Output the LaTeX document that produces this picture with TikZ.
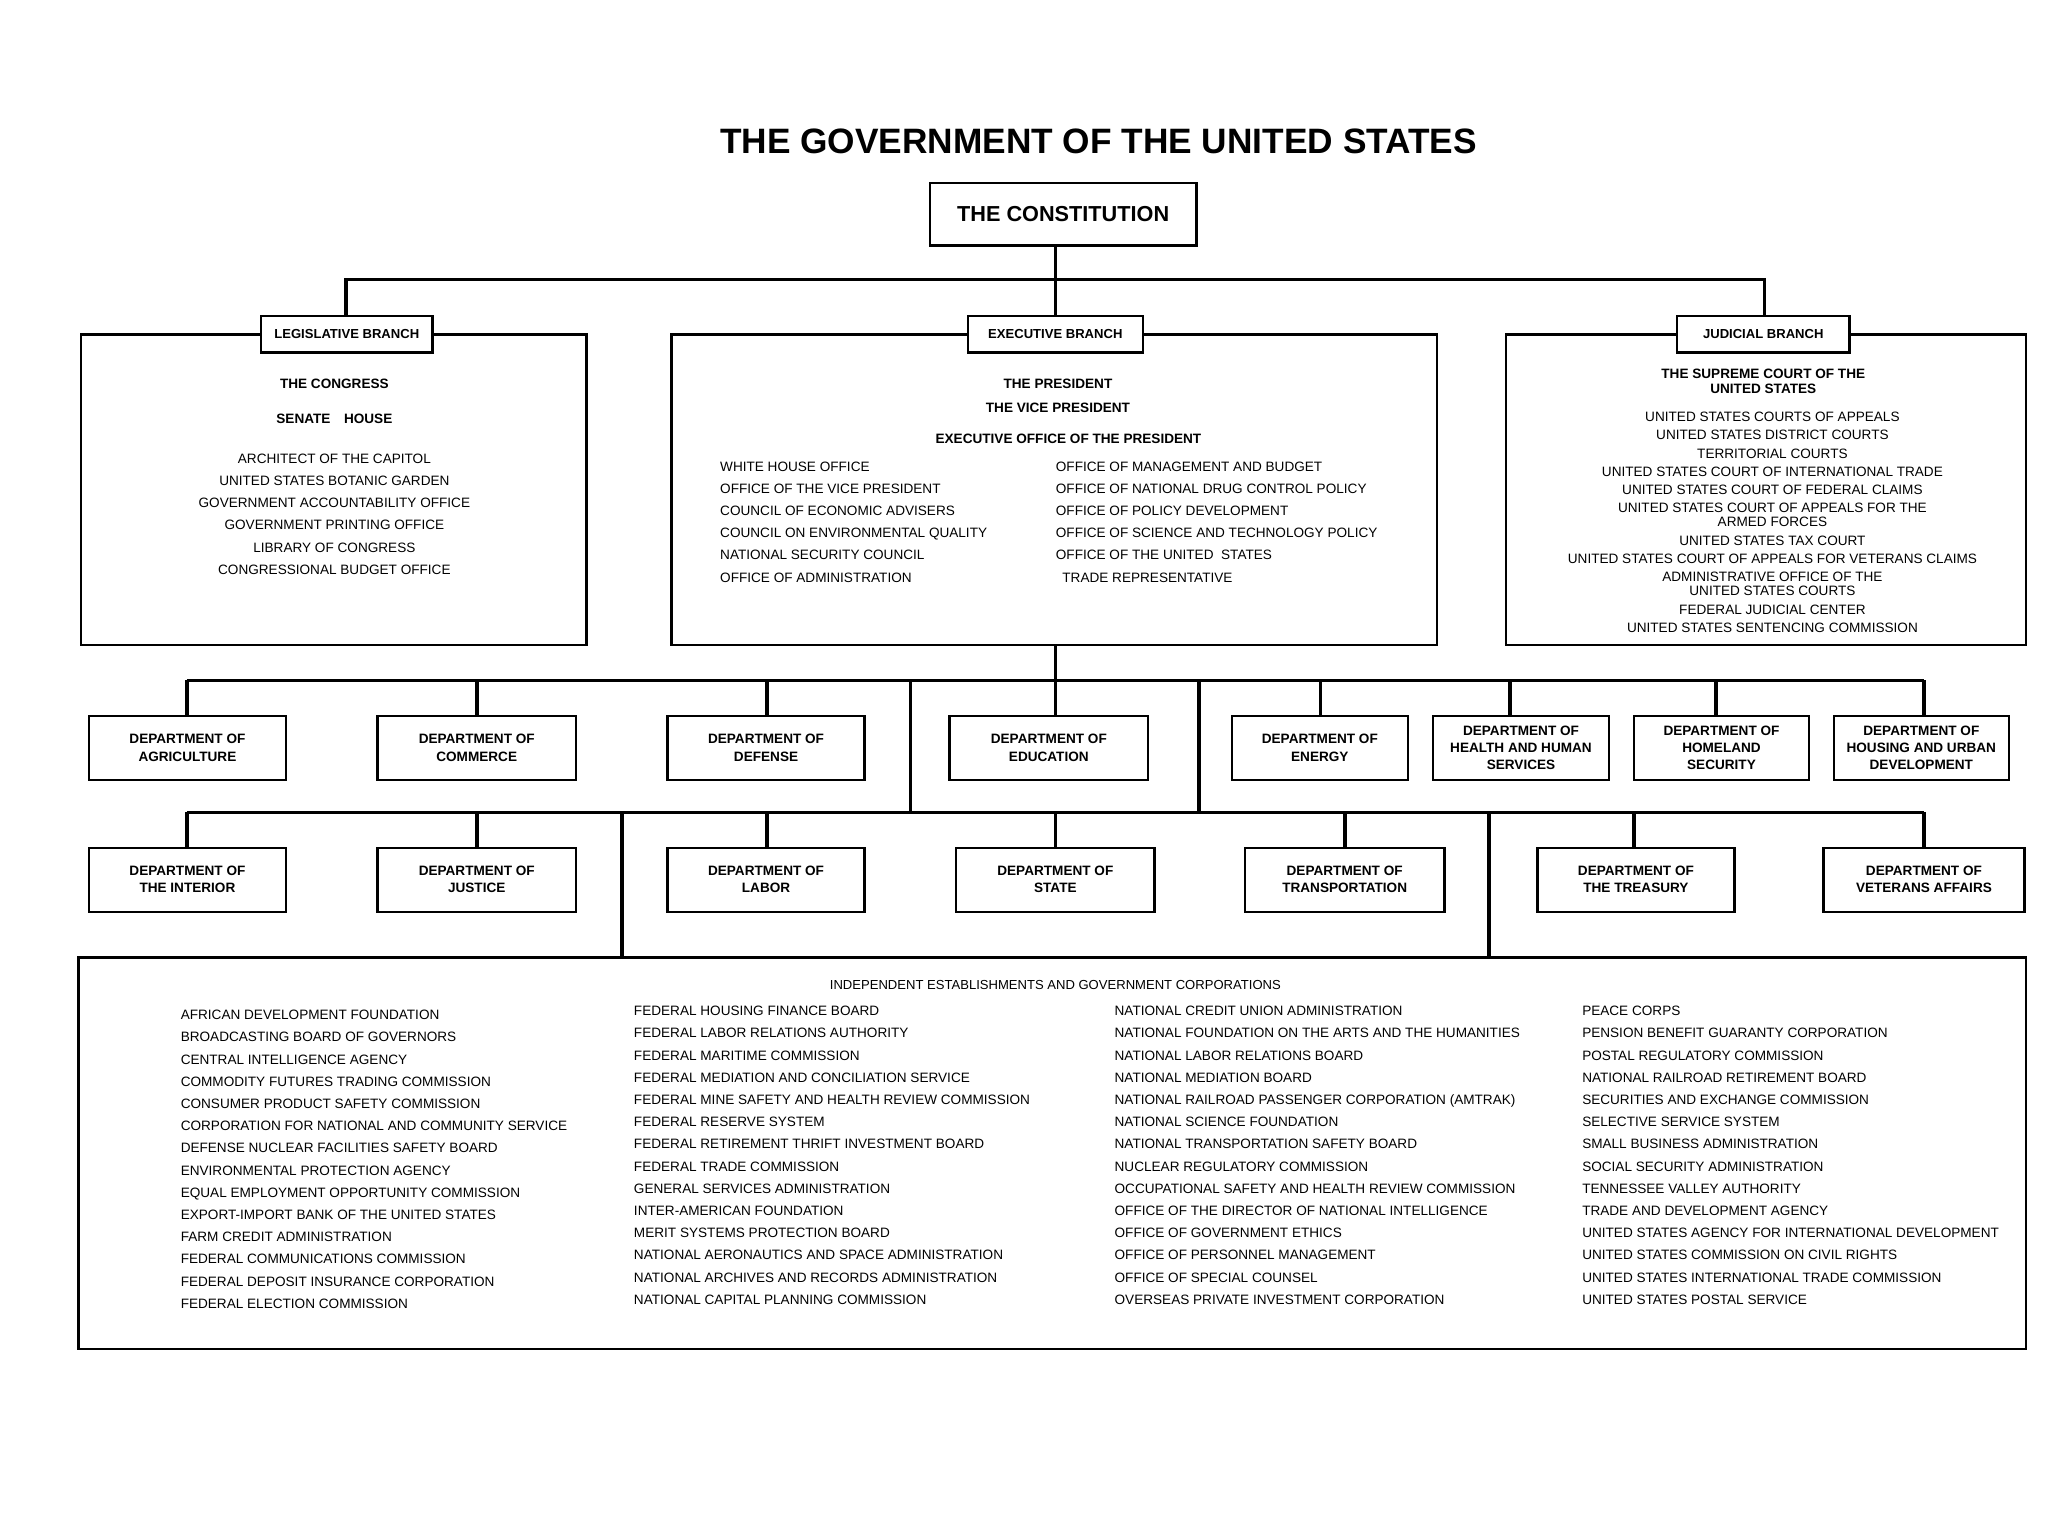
\documentclass[tikz,border=0pt]{standalone}
\usepackage{fontspec}
\setmainfont{Liberation Sans}
\begin{document}
\begin{tikzpicture}[x=0.5pt,y=-0.5pt,
  box/.style={draw,line width=0.9pt,inner sep=0pt,align=center},
  lbl/.style={box,fill=white,font=\fontsize{5}{5.6}\selectfont\bfseries},
  dept/.style={box,minimum height=24.5pt,font=\fontsize{5.2}{6.6}\selectfont\bfseries},
  txt/.style={inner sep=0pt,font=\fontsize{5.2}{8.5}\selectfont},
  con/.style={line width=1.4pt}]
\useasboundingbox (0,0) rectangle (1568,1176);
\node[inner sep=0pt,font=\fontsize{13.5}{15}\selectfont\bfseries] (title) at (841,108) {THE GOVERNMENT OF THE UNITED STATES};
\node[box,minimum width=102pt,minimum height=24pt,font=\fontsize{8.3}{9}\selectfont\bfseries] (const) at (814,164) {THE CONSTITUTION};
% branch boxes
\node[box,minimum width=193.5pt,minimum height=119pt] (leg) at (255.5,375) {};
\node[box,minimum width=293pt,minimum height=119pt] (exe) at (807,375) {};
\node[box,minimum width=199pt,minimum height=119pt] (jud) at (1352,375) {};
\coordinate (top) at (808,214);
\draw[con] (const.south -| top) -- (top);
\draw[con] (265,242) |- (top) -| (1351,242);
\draw[con] (top) -- (808,242);
\node[lbl,minimum width=65.5pt,minimum height=14pt] (legl) at (265.5,256) {LEGISLATIVE BRANCH};
\node[lbl,minimum width=67pt,minimum height=14pt] (exel) at (808,256) {EXECUTIVE BRANCH};
\node[lbl,minimum width=66pt,minimum height=14pt] (judl) at (1350,256) {JUDICIAL BRANCH};
% legislative content
\node[txt,font=\fontsize{5.2}{8.5}\selectfont\bfseries] (cong) at (256,294) {THE CONGRESS};
\node[txt,font=\fontsize{5.2}{8.5}\selectfont\bfseries] (sen) at (256,321) {SENATE\quad HOUSE};
\node[txt,align=center,anchor=north] (leglist) at (256,347) {ARCHITECT OF THE CAPITOL\\UNITED STATES BOTANIC GARDEN\\GOVERNMENT ACCOUNTABILITY OFFICE\\GOVERNMENT PRINTING OFFICE\\LIBRARY OF CONGRESS\\CONGRESSIONAL BUDGET OFFICE};
% executive content
\node[txt,font=\fontsize{5.2}{9}\selectfont\bfseries,align=center] (pres) at (810,303) {THE PRESIDENT\\THE VICE PRESIDENT};
\node[txt,font=\fontsize{5.2}{8.5}\selectfont\bfseries] (eop) at (818,336) {EXECUTIVE OFFICE OF THE PRESIDENT};
\node[txt,align=left,anchor=north west] (exl) at (551,353) {WHITE HOUSE OFFICE\\OFFICE OF THE VICE PRESIDENT\\COUNCIL OF ECONOMIC ADVISERS\\COUNCIL ON ENVIRONMENTAL QUALITY\\NATIONAL SECURITY COUNCIL\\OFFICE OF ADMINISTRATION};
\node[txt,align=left,anchor=north west] (exr) at (808,353) {OFFICE OF MANAGEMENT AND BUDGET\\OFFICE OF NATIONAL DRUG CONTROL POLICY\\OFFICE OF POLICY DEVELOPMENT\\OFFICE OF SCIENCE AND TECHNOLOGY POLICY\\OFFICE OF THE UNITED \ STATES\\\hspace*{2.5pt}TRADE REPRESENTATIVE};
% judicial content
\node[txt,font=\fontsize{5.2}{5.6}\selectfont\bfseries,align=center] (sc) at (1350,292) {THE SUPREME COURT OF THE\\UNITED STATES};
\node[txt,font=\fontsize{5.2}{7}\selectfont,align=center,anchor=north] (judlist) at (1357,315) {UNITED STATES COURTS OF APPEALS\\UNITED STATES DISTRICT COURTS\\TERRITORIAL COURTS\\UNITED STATES COURT OF INTERNATIONAL TRADE\\UNITED STATES COURT OF FEDERAL CLAIMS\\UNITED STATES COURT OF APPEALS FOR THE\\[-1.6pt]ARMED FORCES\\UNITED STATES TAX COURT\\UNITED STATES COURT OF APPEALS FOR VETERANS CLAIMS\\ADMINISTRATIVE OFFICE OF THE\\[-1.6pt]UNITED STATES COURTS\\FEDERAL JUDICIAL CENTER\\UNITED STATES SENTENCING COMMISSION};
% department row 1
\node[dept,minimum width=75.5pt] (agr) at (143.5,572.5) {DEPARTMENT OF\\AGRICULTURE};
\node[dept,minimum width=76pt] (com) at (365,572.5) {DEPARTMENT OF\\COMMERCE};
\node[dept,minimum width=75.5pt] (def) at (586.5,572.5) {DEPARTMENT OF\\DEFENSE};
\node[dept,minimum width=76pt] (edu) at (803,572.5) {DEPARTMENT OF\\EDUCATION};
\node[dept,minimum width=67.5pt] (ene) at (1010.5,572.5) {DEPARTMENT OF\\ENERGY};
\node[dept,minimum width=67.5pt] (hhs) at (1164.5,572.5) {DEPARTMENT OF\\HEALTH AND HUMAN\\SERVICES};
\node[dept,minimum width=67pt] (hom) at (1318,572.5) {DEPARTMENT OF\\HOMELAND\\SECURITY};
\node[dept,minimum width=67pt] (hou) at (1471,572.5) {DEPARTMENT OF\\HOUSING AND URBAN\\DEVELOPMENT};
% row 2
\node[dept,minimum width=75.5pt] (int) at (143.5,673.5) {DEPARTMENT OF\\THE INTERIOR};
\node[dept,minimum width=76pt] (jus) at (365,673.5) {DEPARTMENT OF\\JUSTICE};
\node[dept,minimum width=75.5pt] (lab) at (586.5,673.5) {DEPARTMENT OF\\LABOR};
\node[dept,minimum width=76pt] (sta) at (808,673.5) {DEPARTMENT OF\\STATE};
\node[dept,minimum width=76.5pt] (tra) at (1029.5,673.5) {DEPARTMENT OF\\TRANSPORTATION};
\node[dept,minimum width=75.5pt] (tre) at (1252.5,673.5) {DEPARTMENT OF\\THE TREASURY};
\node[dept,minimum width=77pt] (vet) at (1473,673.5) {DEPARTMENT OF\\VETERANS AFFAIRS};
% independent box
\node[box,minimum width=745.5pt,minimum height=150pt] (ind) at (805.5,883) {};
% connectors
\coordinate (h1) at (808,521);
\coordinate (h2) at (808,622);
\draw[con] (exe.south -| h1) -- (h1);
\draw[con] (143,521) -- (1473,521);
\draw[con] (143,622) -- (1473,622);
\draw[con] (697,521) -- (697,622);
\draw[con] (918,521) -- (918,622);
\foreach \n/\x in {agr/143,com/365,def/587,edu/808,ene/1011,hhs/1156,hom/1314,hou/1473}
  \draw[con] (\x,521) -- (\x,548);
\foreach \n/\x in {int/143,jus/365,lab/587,sta/808,tra/1030,tre/1251,vet/1473}
  \draw[con] (\x,622) -- (\x,649);
\draw[con] (476,622) -- (476,733);
\draw[con] (1140,622) -- (1140,733);
% independent content
\node[txt,font=\fontsize{5}{6}\selectfont] (indt) at (808,754) {INDEPENDENT ESTABLISHMENTS AND GOVERNMENT CORPORATIONS};
\node[txt,align=left,anchor=north west] (c1) at (138,773) {AFRICAN DEVELOPMENT FOUNDATION\\BROADCASTING BOARD OF GOVERNORS\\CENTRAL INTELLIGENCE AGENCY\\COMMODITY FUTURES TRADING COMMISSION\\CONSUMER PRODUCT SAFETY COMMISSION\\CORPORATION FOR NATIONAL AND COMMUNITY SERVICE\\DEFENSE NUCLEAR FACILITIES SAFETY BOARD\\ENVIRONMENTAL PROTECTION AGENCY\\EQUAL EMPLOYMENT OPPORTUNITY COMMISSION\\EXPORT-IMPORT BANK OF THE UNITED STATES\\FARM CREDIT ADMINISTRATION\\FEDERAL COMMUNICATIONS COMMISSION\\FEDERAL DEPOSIT INSURANCE CORPORATION\\FEDERAL ELECTION COMMISSION};
\node[txt,align=left,anchor=north west] (c2) at (485,770) {FEDERAL HOUSING FINANCE BOARD\\FEDERAL LABOR RELATIONS AUTHORITY\\FEDERAL MARITIME COMMISSION\\FEDERAL MEDIATION AND CONCILIATION SERVICE\\FEDERAL MINE SAFETY AND HEALTH REVIEW COMMISSION\\FEDERAL RESERVE SYSTEM\\FEDERAL RETIREMENT THRIFT INVESTMENT BOARD\\FEDERAL TRADE COMMISSION\\GENERAL SERVICES ADMINISTRATION\\INTER-AMERICAN FOUNDATION\\MERIT SYSTEMS PROTECTION BOARD\\NATIONAL AERONAUTICS AND SPACE ADMINISTRATION\\NATIONAL ARCHIVES AND RECORDS ADMINISTRATION\\NATIONAL CAPITAL PLANNING COMMISSION};
\node[txt,align=left,anchor=north west] (c3) at (853,770) {NATIONAL CREDIT UNION ADMINISTRATION\\NATIONAL FOUNDATION ON THE ARTS AND THE HUMANITIES\\NATIONAL LABOR RELATIONS BOARD\\NATIONAL MEDIATION BOARD\\NATIONAL RAILROAD PASSENGER CORPORATION (AMTRAK)\\NATIONAL SCIENCE FOUNDATION\\NATIONAL TRANSPORTATION SAFETY BOARD\\NUCLEAR REGULATORY COMMISSION\\OCCUPATIONAL SAFETY AND HEALTH REVIEW COMMISSION\\OFFICE OF THE DIRECTOR OF NATIONAL INTELLIGENCE\\OFFICE OF GOVERNMENT ETHICS\\OFFICE OF PERSONNEL MANAGEMENT\\OFFICE OF SPECIAL COUNSEL\\OVERSEAS PRIVATE INVESTMENT CORPORATION};
\node[txt,align=left,anchor=north west] (c4) at (1211,770) {PEACE CORPS\\PENSION BENEFIT GUARANTY CORPORATION\\POSTAL REGULATORY COMMISSION\\NATIONAL RAILROAD RETIREMENT BOARD\\SECURITIES AND EXCHANGE COMMISSION\\SELECTIVE SERVICE SYSTEM\\SMALL BUSINESS ADMINISTRATION\\SOCIAL SECURITY ADMINISTRATION\\TENNESSEE VALLEY AUTHORITY\\TRADE AND DEVELOPMENT AGENCY\\UNITED STATES AGENCY FOR INTERNATIONAL DEVELOPMENT\\UNITED STATES COMMISSION ON CIVIL RIGHTS\\UNITED STATES INTERNATIONAL TRADE COMMISSION\\UNITED STATES POSTAL SERVICE};
\end{tikzpicture}
\end{document}
